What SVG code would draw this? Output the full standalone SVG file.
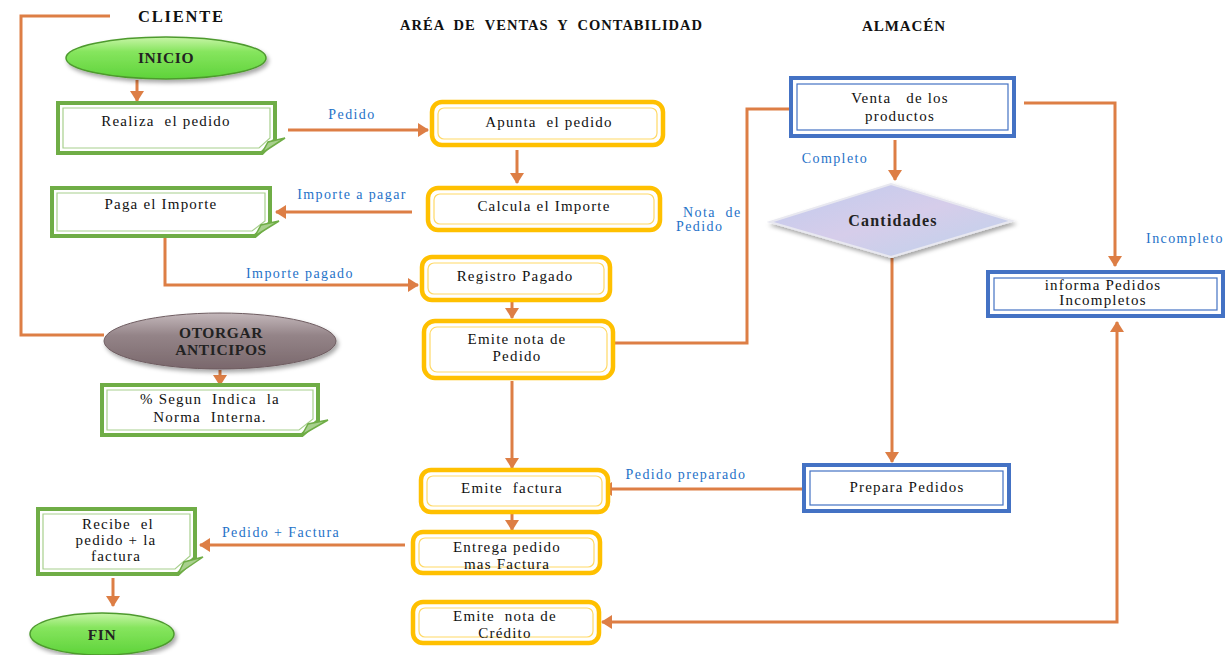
<svg xmlns="http://www.w3.org/2000/svg" width="1230" height="655" viewBox="0 0 1230 655">
<style>
text{white-space:pre}
.hdr{font-family:"Liberation Serif",serif;font-weight:bold;font-size:14px;fill:#111}
.t{font-family:"Liberation Serif",serif;font-size:15px;fill:#111;text-anchor:middle;letter-spacing:1.2px}
.tb{font-family:"Liberation Serif",serif;font-weight:bold;font-size:15.5px;fill:#222;text-anchor:middle;letter-spacing:0.6px}
.lbl{font-family:"Liberation Serif",serif;font-size:14px;fill:#1F72C8;letter-spacing:1.4px}
.c{fill:none;stroke:#DD7E45;stroke-width:3}
.gn{fill:#fff;stroke:#6FAD46;stroke-width:4}
.gni{fill:none;stroke:#A8D08D;stroke-width:1.2}
.fold{fill:#A8D08D;stroke:#6FAD46;stroke-width:1.5}
.yb{fill:#fff;stroke:#FFC000;stroke-width:4.5}
.ybi{fill:none;stroke:#FFD966;stroke-width:1.2}
.bb{fill:#fff;stroke:#4472C4;stroke-width:4}
.bbi{fill:none;stroke:#4472C4;stroke-width:1.2}
</style>
<defs>
<marker id="ah" markerUnits="userSpaceOnUse" markerWidth="12" markerHeight="14" refX="10" refY="7" orient="auto-start-reverse">
<path d="M0,0 L11,7 L0,14 Z" fill="#DD7E45"/>
</marker>
<linearGradient id="gGreen" x1="0" y1="0" x2="0" y2="1">
<stop offset="0" stop-color="#C8F5A8"/>
<stop offset="0.35" stop-color="#86E55E"/>
<stop offset="1" stop-color="#5ED33A"/>
</linearGradient>
<linearGradient id="gMauve" x1="0" y1="0" x2="0" y2="1">
<stop offset="0" stop-color="#C4B8BB"/>
<stop offset="0.4" stop-color="#948488"/>
<stop offset="1" stop-color="#7A686C"/>
</linearGradient>
<linearGradient id="gDia" x1="0" y1="0" x2="1" y2="1">
<stop offset="0" stop-color="#BFCBEE"/>
<stop offset="0.5" stop-color="#D6CDEA"/>
<stop offset="1" stop-color="#BCD2EC"/>
</linearGradient>
<filter id="sh" x="-10%" y="-20%" width="130%" height="150%">
<feDropShadow dx="2" dy="3" stdDeviation="2" flood-color="#000" flood-opacity="0.35"/>
</filter>
</defs>

<rect width="1230" height="655" fill="#fff"/>

<g id="headers">
<text class="hdr" x="138" y="22" textLength="85" lengthAdjust="spacing" style="font-size:16.5px">CLIENTE</text>
<text class="hdr" x="400" y="30" textLength="302" lengthAdjust="spacing" style="font-size:14.5px">ARÉA  DE  VENTAS  Y  CONTABILIDAD</text>
<text class="hdr" x="862" y="31" textLength="83" lengthAdjust="spacing" style="font-size:15px">ALMACÉN</text>
</g>

<g id="connectors">
<path class="c" d="M110,16 H21 V335 H104"/>
<path class="c" d="M137,80 V101" marker-end="url(#ah)"/>
<path class="c" d="M288,130 H428" marker-end="url(#ah)"/>
<path class="c" d="M517,150 V183" marker-end="url(#ah)"/>
<path class="c" d="M412,212 H276" marker-end="url(#ah)"/>
<path class="c" d="M165,236 V285 H418" marker-end="url(#ah)"/>
<path class="c" d="M512,300 V318" marker-end="url(#ah)"/>
<path class="c" d="M615,343 H747 V109 H790"/>
<path class="c" d="M512,381 V468" marker-end="url(#ah)"/>
<path class="c" d="M895,140 V180" marker-end="url(#ah)"/>
<path class="c" d="M1024,103 H1115 V266" marker-end="url(#ah)"/>
<path class="c" d="M892,258 V462" marker-end="url(#ah)"/>
<path class="c" d="M802,489 H602" marker-end="url(#ah)"/>
<path class="c" d="M512,513 V530" marker-end="url(#ah)"/>
<path class="c" d="M405,545 H200" marker-end="url(#ah)"/>
<path class="c" d="M113,578 V606" marker-end="url(#ah)"/>
<path class="c" d="M220,370 V385" marker-end="url(#ah)"/>
<path class="c" d="M602,622 H1117 V322" marker-start="url(#ah)" marker-end="url(#ah)"/>
</g>

<g id="labels">
<text class="lbl" x="352" y="119" text-anchor="middle">Pedido</text>
<text class="lbl" x="352" y="199" text-anchor="middle">Importe a pagar</text>
<text class="lbl" x="300" y="278" text-anchor="middle">Importe pagado</text>
<text class="lbl" x="683" y="217">Nota  de</text>
<text class="lbl" x="676" y="231">Pedido</text>
<text class="lbl" x="835" y="163" text-anchor="middle">Completo</text>
<text class="lbl" x="1185" y="243" text-anchor="middle">Incompleto</text>
<text class="lbl" x="686" y="479" text-anchor="middle">Pedido preparado</text>
<text class="lbl" x="281" y="537" text-anchor="middle">Pedido + Factura</text>
</g>

<g id="inicio">
<ellipse cx="166" cy="58" rx="100" ry="21" fill="url(#gGreen)" stroke="#4E9A2E" stroke-width="1.5" filter="url(#sh)"/>
<text class="tb" x="166" y="63">INICIO</text>
</g>

<g id="realiza">
<path class="gn" d="M58,103 H275 V140 L262,153 H58 Z"/>
<path class="gni" d="M63,108 H270 V138 L259,148 H63 Z"/>
<path class="fold" d="M262,153 L268,142 L285,138 Z"/>
<text class="t" x="166" y="126">Realiza  el pedido</text>
</g>

<g id="paga">
<path class="gn" d="M52,188 H270 V223 L255,236 H52 Z"/>
<path class="gni" d="M57,193 H265 V221 L252,231 H57 Z"/>
<path class="fold" d="M255,236 L261,225 L279,221 Z"/>
<text class="t" x="161" y="209">Paga el Importe</text>
</g>

<g id="otorgar">
<ellipse cx="220" cy="341" rx="116" ry="28" fill="url(#gMauve)" stroke="#6E5C60" stroke-width="1" filter="url(#sh)"/>
<text class="tb" x="221" y="338">OTORGAR</text>
<text class="tb" x="221" y="355">ANTICIPOS</text>
</g>

<g id="segun">
<path class="gn" d="M102,385 H318 V421 L302,435 H102 Z"/>
<path class="gni" d="M107,390 H313 V419 L299,430 H107 Z"/>
<path class="fold" d="M302,435 L308,424 L328,420 Z"/>
<text class="t" x="210" y="404">% Segun  Indica  la</text>
<text class="t" x="210" y="422">Norma  Interna.</text>
</g>

<g id="recibe">
<path class="gn" d="M38,509 H195 V558 L178,574 H38 Z"/>
<path class="gni" d="M43,514 H190 V556 L175,569 H43 Z"/>
<path class="fold" d="M178,574 L184,562 L203,557 Z"/>
<text class="t" x="118" y="529">Recibe  el</text>
<text class="t" x="116" y="545">pedido + la</text>
<text class="t" x="116" y="561">factura</text>
</g>

<g id="fin">
<ellipse cx="102" cy="634" rx="72" ry="21" fill="url(#gGreen)" stroke="#4E9A2E" stroke-width="1.5" filter="url(#sh)"/>
<text class="tb" x="102" y="640">FIN</text>
</g>

<g id="apunta">
<rect class="yb" x="432" y="102" width="231" height="43" rx="10"/>
<rect class="ybi" x="438" y="108" width="219" height="31" rx="6"/>
<text class="t" x="549" y="127">Apunta  el pedido</text>
</g>

<g id="calcula">
<rect class="yb" x="428" y="188" width="232" height="42" rx="10"/>
<rect class="ybi" x="434" y="194" width="220" height="30" rx="6"/>
<text class="t" x="544" y="211">Calcula el Importe</text>
</g>

<g id="registro">
<rect class="yb" x="422" y="257" width="188" height="43" rx="10"/>
<rect class="ybi" x="428" y="263" width="176" height="31" rx="6"/>
<text class="t" x="515" y="281">Registro Pagado</text>
</g>

<g id="emite-nota-pedido">
<rect class="yb" x="424" y="321" width="189" height="57" rx="11"/>
<rect class="ybi" x="430" y="327" width="177" height="45" rx="7"/>
<text class="t" x="517" y="344">Emite nota de</text>
<text class="t" x="517" y="361">Pedido</text>
</g>

<g id="emite-factura">
<rect class="yb" x="421" y="470" width="187" height="42" rx="10"/>
<rect class="ybi" x="427" y="476" width="175" height="30" rx="6"/>
<text class="t" x="512" y="493">Emite  factura</text>
</g>

<g id="entrega">
<rect class="yb" x="413" y="532" width="187" height="41" rx="10"/>
<rect class="ybi" x="419" y="538" width="175" height="29" rx="6"/>
<text class="t" x="507" y="552">Entrega pedido</text>
<text class="t" x="507" y="569">mas Factura</text>
</g>

<g id="emite-nota-credito">
<rect class="yb" x="413" y="602" width="186" height="41" rx="10"/>
<rect class="ybi" x="419" y="608" width="174" height="29" rx="6"/>
<text class="t" x="505" y="621">Emite  nota de</text>
<text class="t" x="505" y="638">Crédito</text>
</g>

<g id="venta">
<rect class="bb" x="791" y="78" width="223" height="58"/>
<rect class="bbi" x="797" y="84" width="211" height="46"/>
<text class="t" x="900" y="103">Venta   de los</text>
<text class="t" x="900" y="121">productos</text>
</g>

<g id="cantidades">
<polygon points="770,222 891,184 1012,221 891,257" fill="url(#gDia)" stroke="#E8E8F0" stroke-width="2" filter="url(#sh)"/>
<text class="tb" x="893" y="226" style="font-size:16px;letter-spacing:1.2px">Cantidades</text>
</g>

<g id="informa">
<rect class="bb" x="988" y="272" width="235" height="44"/>
<rect class="bbi" x="994" y="278" width="223" height="32"/>
<text class="t" x="1103" y="290">informa Pedidos</text>
<text class="t" x="1103" y="305">Incompletos</text>
</g>

<g id="prepara">
<rect class="bb" x="804" y="465" width="205" height="46"/>
<rect class="bbi" x="810" y="471" width="193" height="34"/>
<text class="t" x="907" y="492">Prepara Pedidos</text>
</g>
</svg>
